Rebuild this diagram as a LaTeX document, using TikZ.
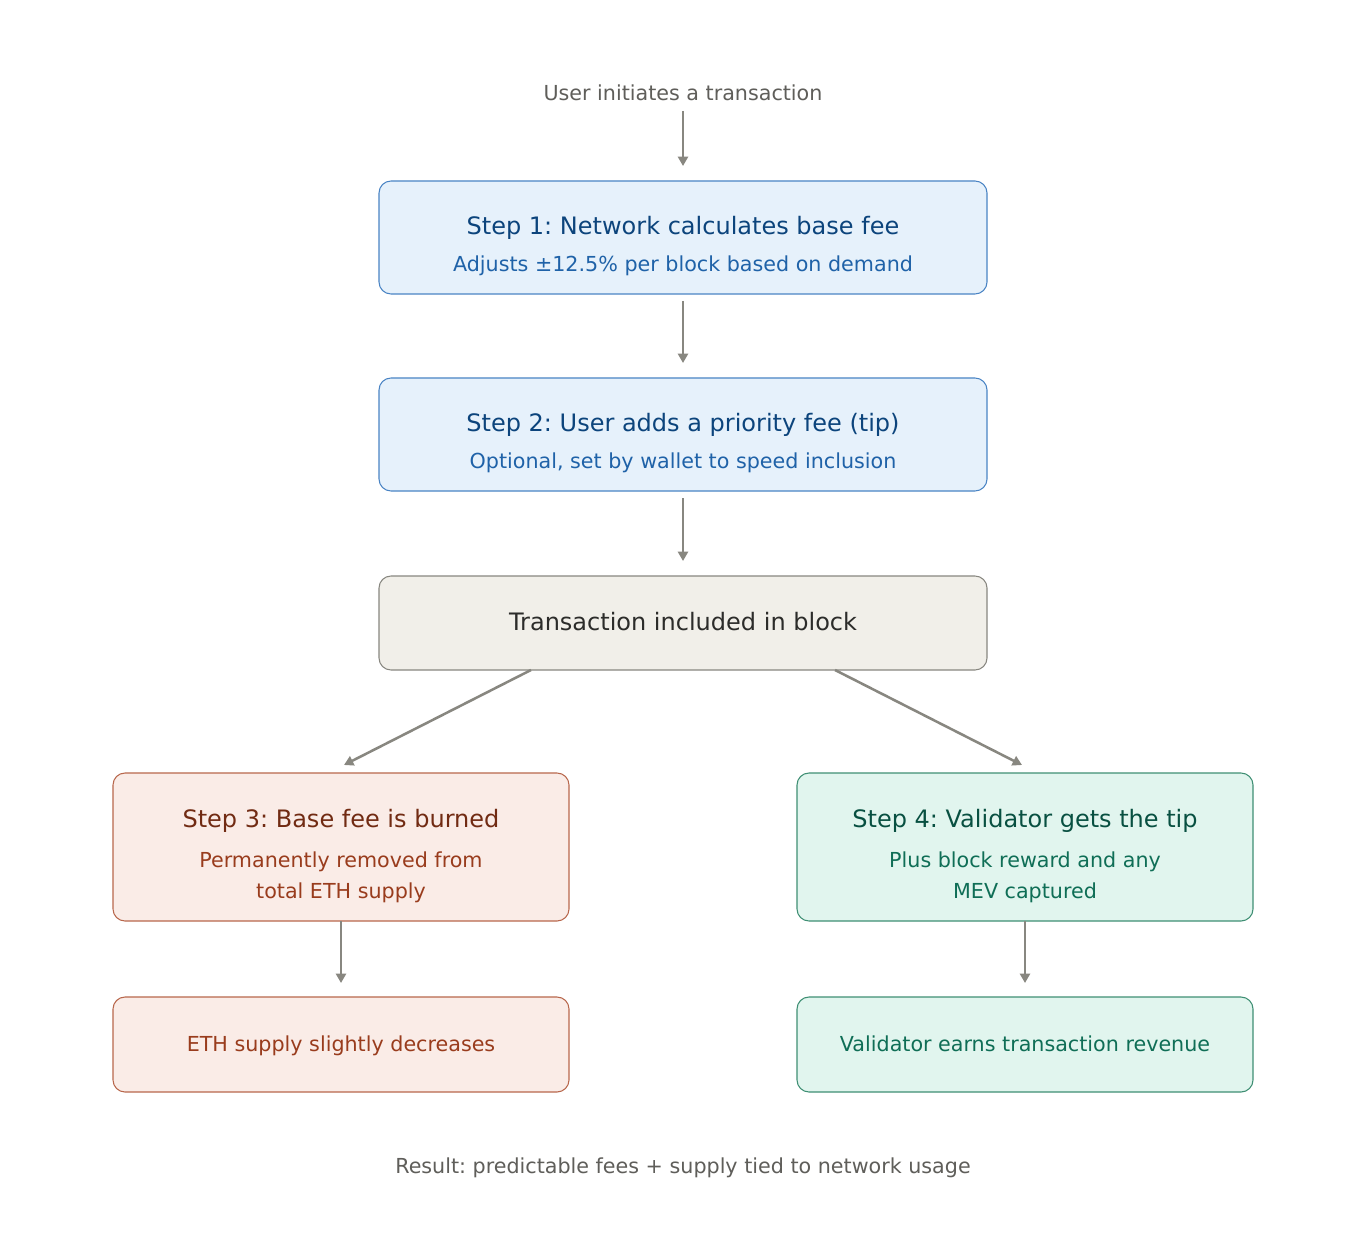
\documentclass[tikz,border=0pt]{standalone}
\usepackage{fontspec}
\setmainfont{DejaVu Sans}
\usetikzlibrary{arrows.meta}
\definecolor{bfill}{HTML}{E6F1FB}
\definecolor{bdraw}{HTML}{4A84C4}
\definecolor{btitle}{HTML}{0C447C}
\definecolor{bsub}{HTML}{1F62A8}
\definecolor{tfill}{HTML}{F1EFE9}
\definecolor{tdraw}{HTML}{888780}
\definecolor{ttext}{HTML}{2C2C2A}
\definecolor{rfill}{HTML}{FAECE7}
\definecolor{rdraw}{HTML}{B8674C}
\definecolor{rtitle}{HTML}{712B13}
\definecolor{rsub}{HTML}{993C1D}
\definecolor{gfill}{HTML}{E1F5EE}
\definecolor{gdraw}{HTML}{3F8F74}
\definecolor{gtitle}{HTML}{085041}
\definecolor{gsub}{HTML}{0F6E56}
\definecolor{arr}{HTML}{888780}
\definecolor{note}{HTML}{5F5E5A}
\tikzset{
  box/.style={rounded corners=9pt, line width=0.8pt, inner sep=0pt},
  bluebox/.style={box, draw=bdraw, fill=bfill},
  tanbox/.style={box, draw=tdraw, fill=tfill},
  redbox/.style={box, draw=rdraw, fill=rfill},
  greenbox/.style={box, draw=gdraw, fill=gfill},
  title/.style={anchor=base, inner sep=0pt, font=\fontsize{18}{21}\selectfont},
  sub/.style={anchor=base, inner sep=0pt, font=\fontsize{15.5}{18}\selectfont},
  flow/.style={draw=arr, line width=1.9pt, -{Triangle[width=7.5pt,length=7pt]}},
}
\begin{document}
\frenchspacing
\begin{tikzpicture}[x=0.75pt,y=-0.75pt]
\useasboundingbox[fill=white] (0,0) rectangle (1366,1251);
% boxes
\draw[bluebox] (379,181) rectangle (987,294);
\coordinate (s1t) at (683,181); \coordinate (s1b) at (683,294);
\draw[bluebox] (379,378) rectangle (987,491);
\coordinate (s2t) at (683,378); \coordinate (s2b) at (683,491);
\draw[tanbox] (379,576) rectangle (987,670);
\coordinate (txt) at (683,576);
\coordinate (txl) at (531,670); \coordinate (txr) at (835,670);
\draw[redbox] (113,773) rectangle (569,921);
\coordinate (s3t) at (341,773); \coordinate (s3b) at (341,921);
\draw[greenbox] (797,773) rectangle (1253,921);
\coordinate (s4t) at (1025,773); \coordinate (s4b) at (1025,921);
\draw[redbox] (113,997) rectangle (569,1092);
\coordinate (e1t) at (341,997);
\draw[greenbox] (797,997) rectangle (1253,1092);
\coordinate (v1t) at (1025,997);
% texts
\node[sub, text=note] (start) at (683,100.5) {User initiates a transaction};
\node[title, text=btitle] (s1title) at (683,234.5) {Step 1: Network calculates base fee};
\node[sub, text=bsub] (s1sub) at (683,271.5) {Adjusts ±12.5\% per block based on demand};
\node[title, text=btitle] (s2title) at (683,431.5) {Step 2: User adds a priority fee (tip)};
\node[sub, text=bsub] (s2sub) at (683,468.5) {Optional, set by wallet to speed inclusion};
\node[title, text=ttext] (txtitle) at (683,630.5) {Transaction included in block};
\node[title, text=rtitle] (s3title) at (341,827) {Step 3: Base fee is burned};
\node[sub, text=rsub] (s3sub1) at (341,867.5) {Permanently removed from};
\node[sub, text=rsub] (s3sub2) at (341,898.5) {total ETH supply};
\node[title, text=gtitle] (s4title) at (1025,827) {Step 4: Validator gets the tip};
\node[sub, text=gsub] (s4sub1) at (1025,867.5) {Plus block reward and any};
\node[sub, text=gsub] (s4sub2) at (1025,898.5) {MEV captured};
\node[sub, text=rsub] (eth) at (341,1051) {ETH supply slightly decreases};
\node[sub, text=gsub] (val) at (1025,1051) {Validator earns transaction revenue};
\node[sub, text=note] (result) at (683,1173) {Result: predictable fees + supply tied to network usage};
% arrows
\coordinate (a0s) at (683,111); \coordinate (a0e) at (683,166);
\draw[flow] (a0s) -- (a0e);
\coordinate (a1s) at (683,301); \coordinate (a1e) at (683,363);
\draw[flow] (a1s) -- (a1e);
\coordinate (a2s) at (683,498); \coordinate (a2e) at (683,561);
\draw[flow] (a2s) -- (a2e);
\coordinate (a3e) at (344,765);
\draw[flow] (txl) -- (a3e);
\coordinate (a4e) at (1022,765);
\draw[flow] (txr) -- (a4e);
\coordinate (a5e) at (341,983);
\draw[flow] (s3b) -- (a5e);
\coordinate (a6e) at (1025,983);
\draw[flow] (s4b) -- (a6e);
\end{tikzpicture}
\end{document}
